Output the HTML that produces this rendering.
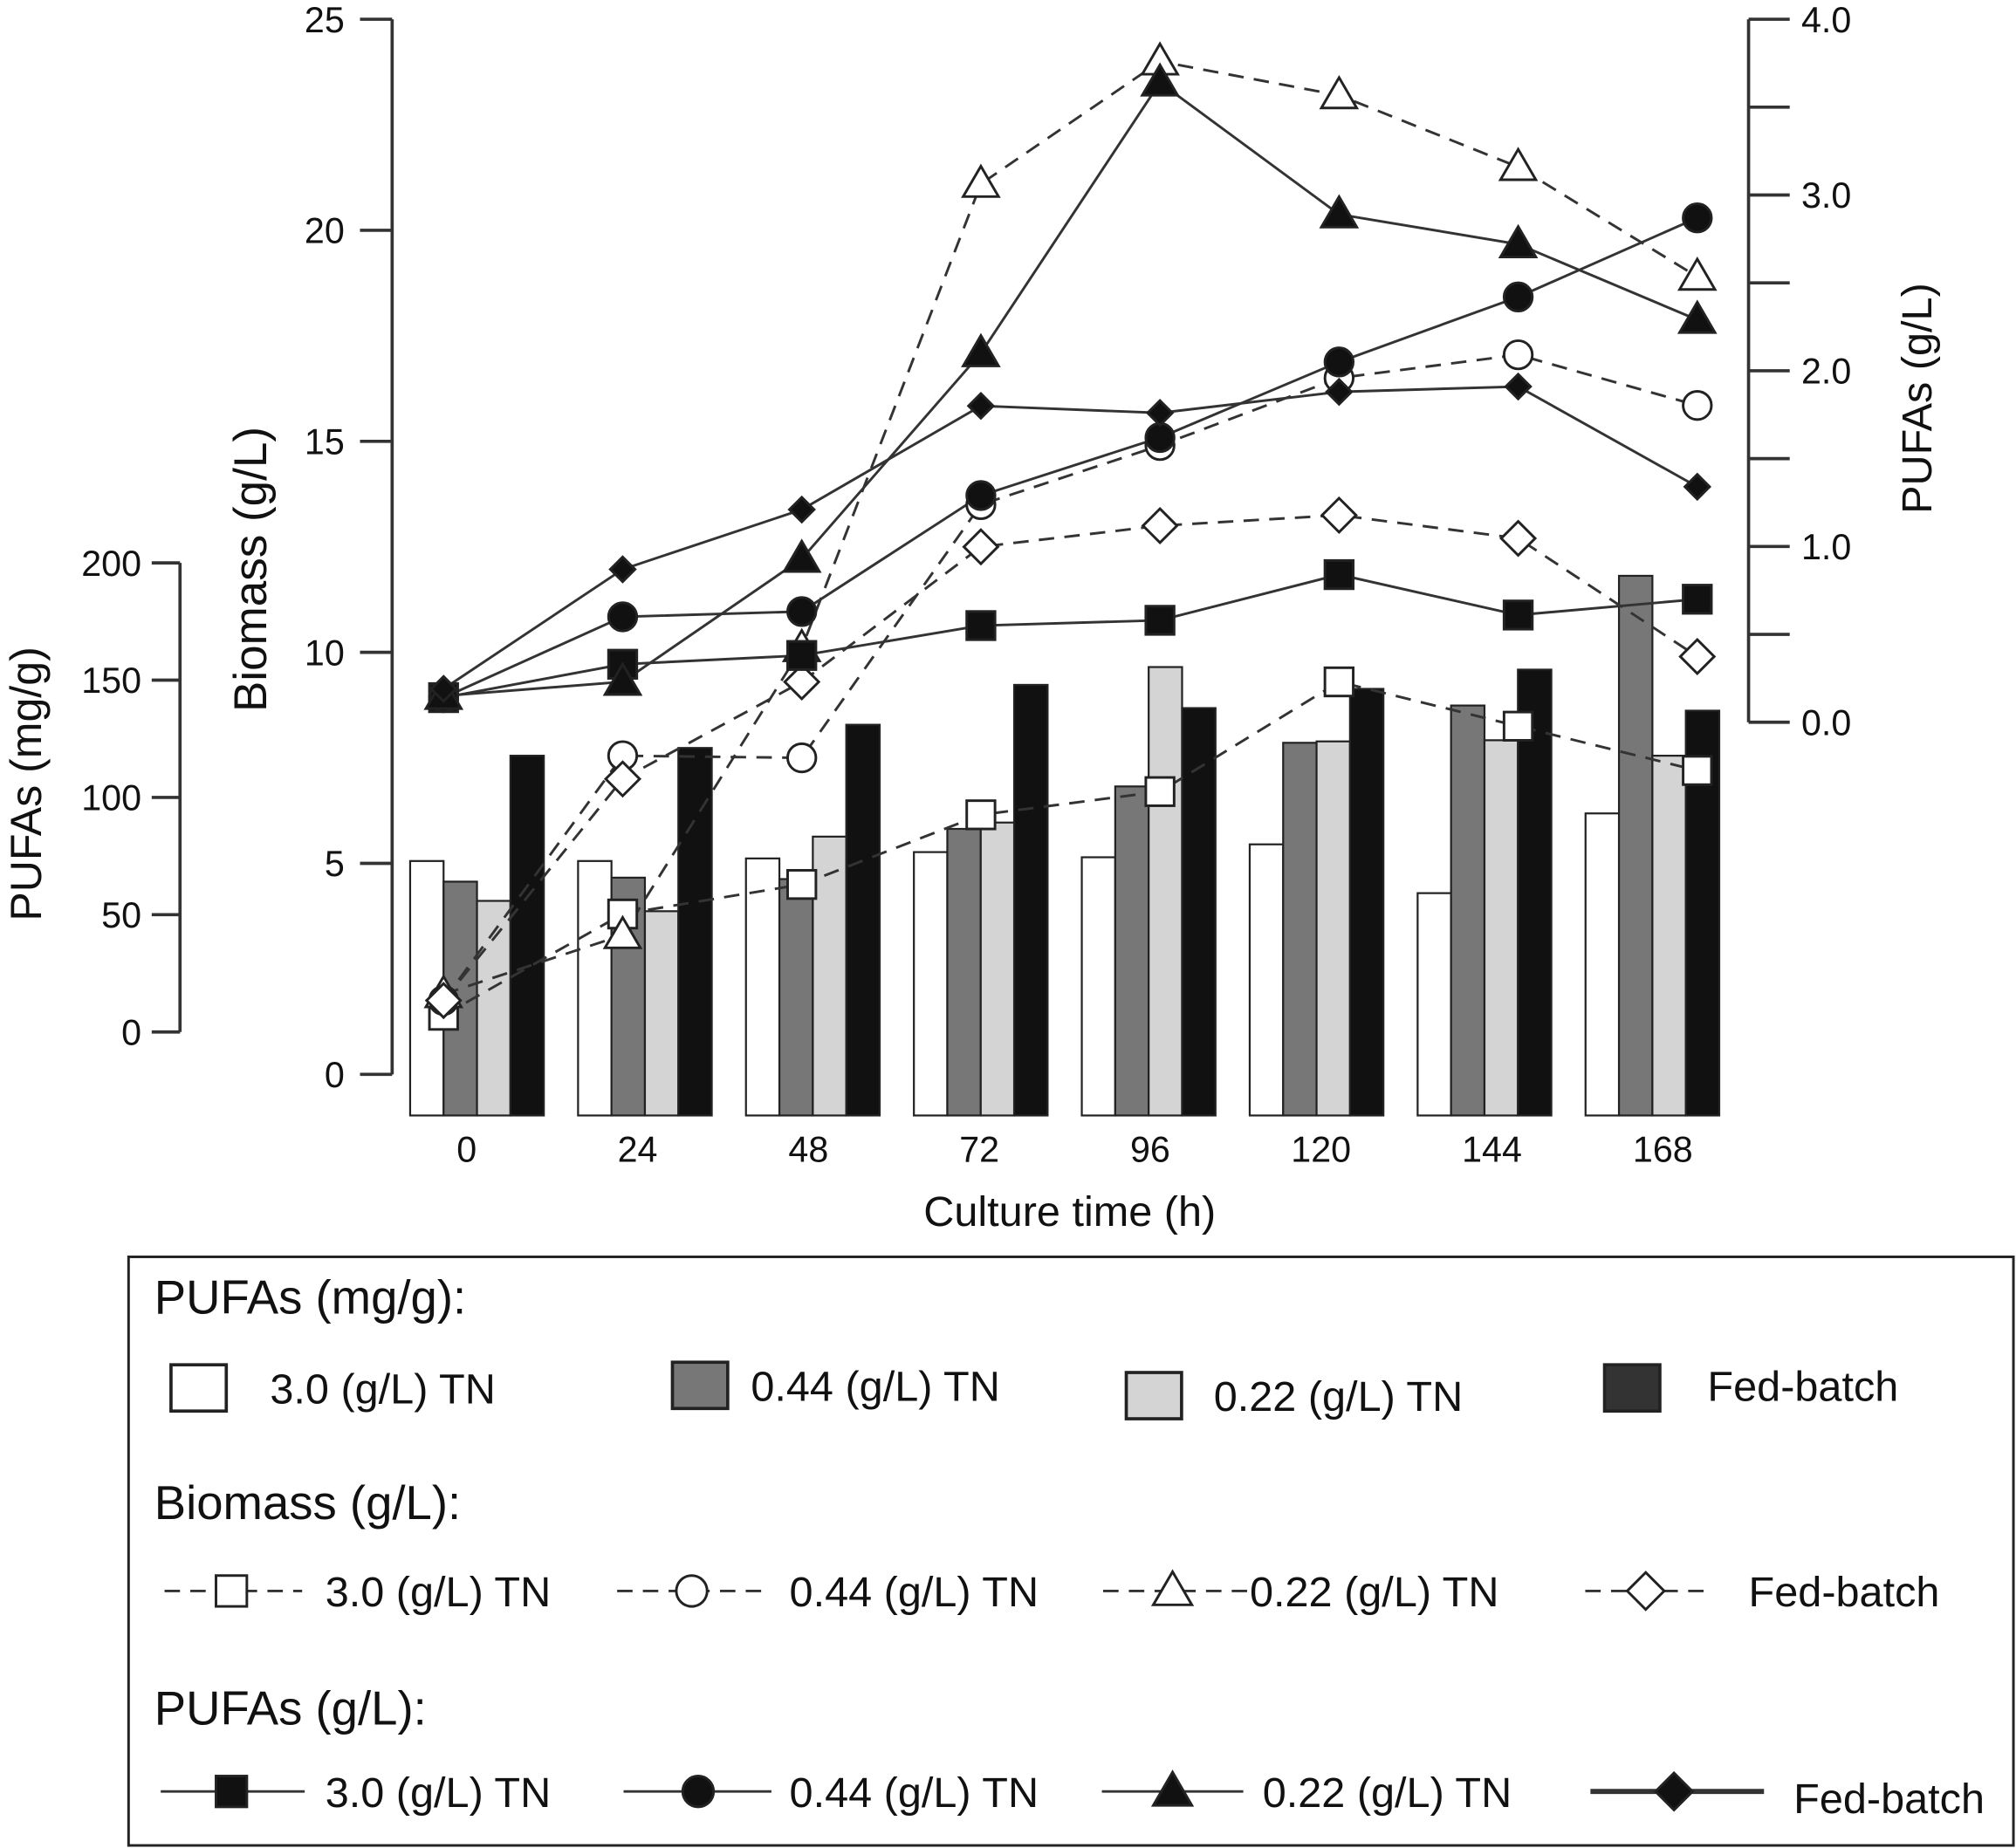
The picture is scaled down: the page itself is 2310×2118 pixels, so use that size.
<!DOCTYPE html>
<html><head><meta charset="utf-8"><style>
html,body{margin:0;padding:0;background:#fff}
svg{display:block}
text{font-family:"Liberation Sans",sans-serif;fill:#111}
</style></head><body>
<svg id="chart" width="2310" height="2118" viewBox="0 0 1568 1438" preserveAspectRatio="none" xmlns="http://www.w3.org/2000/svg">
<g id="axes"></g>
<g id="bars"></g>
<g id="lines"></g>
<g id="legend">
<rect x="100" y="978" width="1466" height="458" fill="none" stroke="#222" stroke-width="2"/>
<text x="120" y="1022" font-size="37">PUFAs (mg/g):</text>
<text x="120" y="1182" font-size="37">Biomass (g/L):</text>
<text x="120" y="1342" font-size="37">PUFAs (g/L):</text>
</g>
<text x="832" y="954" font-size="33" text-anchor="middle">Culture time (h)</text>
<text transform="translate(207,443) rotate(-90)" font-size="36" text-anchor="middle">Biomass (g/L)</text>
<text transform="translate(1502,310) rotate(-90)" font-size="33" text-anchor="middle">PUFAs (g/L)</text>
<text transform="translate(32,610) rotate(-90)" font-size="34" text-anchor="middle">PUFAs (mg/g)</text>
</svg>
<script>
const times = [0,24,48,72,96,120,144,168];
const barMgg30 = [108.5,108.5,109.6,112.3,110.1,115.6,94.8,128.8];
const barMgg044 = [99.7,101.4,100.8,122.2,140.3,158.9,174.8,230.1];
const barMgg022 = [91.5,87.1,118.9,124.9,191.2,159.5,160.0,153.4];
const barMggFed = [153.4,156.7,166.6,183.6,173.7,181.9,190.1,172.6];
const bio30 = [1.4,3.8,4.5,6.15,6.7,9.3,8.25,7.2];
const bio044 = [1.75,7.55,7.5,13.5,14.9,16.5,17.05,15.85];
const bio022 = [1.9,3.3,10.1,21.1,24.0,23.2,21.5,18.9];
const bioFed = [1.75,7.0,9.3,12.5,13.0,13.25,12.7,9.9];
const pgl30 = [0.14,0.33,0.38,0.55,0.58,0.84,0.61,0.70];
const pgl044 = [0.14,0.60,0.63,1.29,1.62,2.05,2.42,2.87];
const pgl022 = [0.15,0.23,0.93,2.10,3.64,2.89,2.72,2.29];
const pglFed = [0.19,0.87,1.21,1.80,1.76,1.88,1.91,1.34];
const bioTicks = [0,5,10,15,20,25];
const pglTicks = [0.0,1.0,2.0,3.0,4.0];
const mggTicks = [0,50,100,150,200];

const NS="http://www.w3.org/2000/svg";
function mk(parent,tag,attrs){const e=document.createElementNS(NS,tag);for(const k in attrs)e.setAttribute(k,attrs[k]);parent.appendChild(e);return e;}
const yBio=v=>836-v*32.84;
const yPgl=v=>562-v*136.75;
const yMgg=v=>803-v*1.825;
const yBar=v=>868-v*1.825;
const xGroup=i=>319+i*130.6;
const xLabel=i=>363+i*132.9;
const xPt=i=>345+i*139.3;

const axes=document.getElementById('axes');
let a=mk(axes,'line',{x1:305,y1:15,x2:305,y2:836,stroke:'#333','stroke-width':2.5});

bioTicks.forEach(t=>{const y=yBio(t);
 let l=mk(axes,'line',{x1:280,y1:y,x2:305,y2:y,stroke:'#333','stroke-width':2.5});
 
 let tx=mk(axes,'text',{x:268,y:y+10,'font-size':28,'text-anchor':'end'});tx.textContent=t;
 });
a=mk(axes,'line',{x1:1360,y1:15,x2:1360,y2:562,stroke:'#333','stroke-width':2.5});

for(let k=0;k<=8;k++){const y=yPgl(k*0.5);
 let l=mk(axes,'line',{x1:1360,y1:y,x2:1392,y2:y,stroke:'#333','stroke-width':2.5});
 }
pglTicks.forEach(t=>{let tx=mk(axes,'text',{x:1401,y:yPgl(t)+10,'font-size':28});tx.textContent=t.toFixed(1);
 });
a=mk(axes,'line',{x1:140,y1:yMgg(200),x2:140,y2:yMgg(0),stroke:'#333','stroke-width':2.5});

mggTicks.forEach(t=>{const y=yMgg(t);
 let l=mk(axes,'line',{x1:118,y1:y,x2:140,y2:y,stroke:'#333','stroke-width':2.5});
 
 let tx=mk(axes,'text',{x:110,y:y+10,'font-size':28,'text-anchor':'end'});tx.textContent=t;
 });
times.forEach((t,i)=>{let tx=mk(axes,'text',{x:xLabel(i),y:904,'font-size':28,'text-anchor':'middle'});tx.textContent=t;
 });

const bars=document.getElementById('bars');
const barSeries=[[barMgg30,'#fff'],[barMgg044,'#777'],[barMgg022,'#d4d4d4'],[barMggFed,'#111']];
times.forEach((t,i)=>{barSeries.forEach((s,j)=>{const v=s[0][i];const y=yBar(v);
 let r=mk(bars,'rect',{x:xGroup(i)+j*26,y:y,width:26,height:868-y,fill:s[1],stroke:'#222','stroke-width':1.5});
 });});

function marker(g,type,x,y,filled,s){
 const f=filled?'#111':'#fff';let e;
 if(type==='sq')e=mk(g,'rect',{x:x-s,y:y-s,width:2*s,height:2*s,fill:f,stroke:'#222','stroke-width':2});
 else if(type==='ci')e=mk(g,'circle',{cx:x,cy:y,r:s,fill:f,stroke:'#222','stroke-width':2});
 else if(type==='tr')e=mk(g,'polygon',{points:`${x},${y-s*1.25} ${x+s*1.25},${y+s*0.9} ${x-s*1.25},${y+s*0.9}`,fill:f,stroke:'#222','stroke-width':2});
 else e=mk(g,'polygon',{points:`${x},${y-s*1.2} ${x+s*1.2},${y} ${x},${y+s*1.2} ${x-s*1.2},${y}`,fill:f,stroke:'#222','stroke-width':2});
 return e;}
const lines=document.getElementById('lines');
const lineSeries=[
 [bio30,yBio,'sq',false],[bio044,yBio,'ci',false],[bio022,yBio,'tr',false],[bioFed,yBio,'di',false],
 [pgl30,yPgl,'sq',true],[pgl044,yPgl,'ci',true],[pgl022,yPgl,'tr',true],[pglFed,yPgl,'di',true]];
lineSeries.forEach(s=>{
 const pts=s[0].map((v,i)=>xPt(i)+','+s[1](v)).join(' ');
 let p=mk(lines,'polyline',{points:pts,fill:'none',stroke:'#333','stroke-width':2,'stroke-dasharray':s[3]?'none':'12,8'});
 });
lineSeries.forEach(s=>{s[0].forEach((v,i)=>{
 let m=marker(lines,s[2],xPt(i),s[1](v),s[3],s[2]==='di'?(s[3]?8:11):11);
 });});

const lg=document.getElementById('legend');
const sw=[[133,1062,'#fff',210,1092,'3.0 (g/L) TN'],[523,1060,'#777',584,1090,'0.44 (g/L) TN'],[876,1068,'#d4d4d4',944,1098,'0.22 (g/L) TN'],[1248,1062,'#333',1328,1090,'Fed-batch']];
sw.forEach(s=>{let r=mk(lg,'rect',{x:s[0],y:s[1],width:43,height:36,fill:s[2],stroke:'#222','stroke-width':2.5});
 
 let t=mk(lg,'text',{x:s[3],y:s[4],'font-size':33});t.textContent=s[5];
 });
const le=[[128,235,180,'sq',253,'3.0 (g/L) TN'],[480,595,538,'ci',614,'0.44 (g/L) TN'],[858,970,912,'tr',972,'0.22 (g/L) TN'],[1233,1325,1280,'di',1360,'Fed-batch']];
le.forEach(s=>{const y=1238;
 let l=mk(lg,'line',{x1:s[0],y1:y,x2:s[1],y2:y,stroke:'#333','stroke-width':2,'stroke-dasharray':'12,8'});
 
 let m=marker(lg,s[3],s[2],y,false,12);
 let t=mk(lg,'text',{x:s[4],y:y+12,'font-size':33});t.textContent=s[5];
 });
const ls=[[125,237,180,'sq',253,'3.0 (g/L) TN',2],[485,600,543,'ci',614,'0.44 (g/L) TN',2],[857,967,912,'tr',982,'0.22 (g/L) TN',2],[1237,1372,1302,'di',1395,'Fed-batch',4]];
ls.forEach(s=>{const y=1394;
 let l=mk(lg,'line',{x1:s[0],y1:y,x2:s[1],y2:y,stroke:'#333','stroke-width':s[6]});
 
 let m=marker(lg,s[3],s[2],y,true,12);
 let t=mk(lg,'text',{x:s[4],y:y+12+(s[5]==='Fed-batch'?5:0),'font-size':33});t.textContent=s[5];
 });
</script>
</body></html>
